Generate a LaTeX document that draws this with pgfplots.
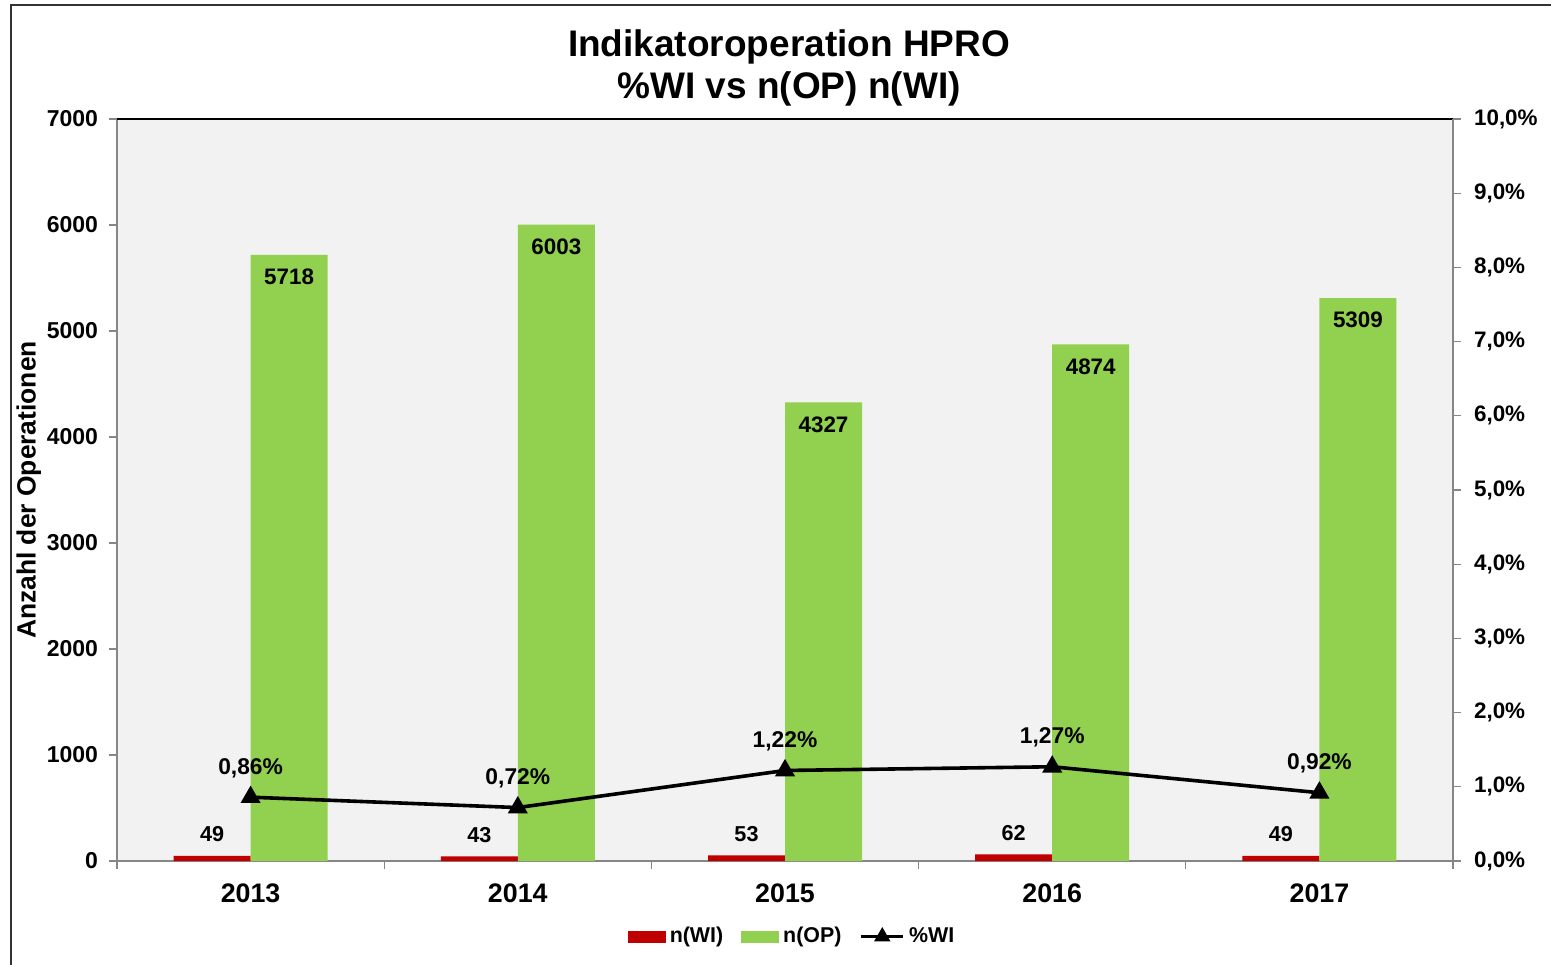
\documentclass[border=0pt]{standalone}
\usepackage{fontspec}
\setmainfont{Liberation Sans}
\usepackage{pgfplots}
\pgfplotsset{compat=1.18}
\definecolor{wired}{HTML}{C00000}
\definecolor{opgreen}{HTML}{92D050}
\definecolor{bggray}{HTML}{F2F2F2}
\definecolor{axgray}{HTML}{868686}
\pgfplotsset{
  /pgf/number format/assume math mode=true,
  /pgf/number format/1000 sep={},
  barlegend/.style={legend image code/.code={\fill[##1] (0pt,-3pt) rectangle (19pt,3pt);}},
  linelegend/.style={legend image code/.code={\draw[mark repeat=2,mark phase=2,##1] plot coordinates {(0pt,0pt) (10.5pt,0pt) (21pt,0pt)};}},
}
\begin{document}
\begin{tikzpicture}
\path[use as bounding box] (0,0) rectangle (775.5pt,482pt);
\draw[line width=0.8pt, black!80] (5.5pt,-2pt) -- (5.5pt,479.5pt) -- (777pt,479.5pt);
\begin{axis}[
  at={(58.5pt,51.5pt)}, anchor=south west,
  scale only axis, width=668pt, height=371pt,
  xmin=-0.5, xmax=4.5, ymin=0, ymax=7000,
  axis background/.style={fill=bggray},
  axis line style={axgray, line width=0.6pt},
  axis x line*=bottom, axis y line*=left,
  tick align=outside,
  major tick length=4pt, minor tick length=4pt,
  ytick={0,1000,...,7000},
  ytick style={axgray, line width=0.6pt},
  yticklabel style={font=\bfseries\fontsize{11.5}{13}\selectfont, xshift=-2pt},
  xtick={0,...,4},
  xticklabels={2013,2014,2015,2016,2017},
  major x tick style={draw=none},
  minor xtick={-0.5,0.5,...,4.5},
  minor x tick style={axgray, line width=0.6pt},
  xticklabel style={font=\bfseries\fontsize{13.4}{15}\selectfont, yshift=-4pt},
  ylabel={Anzahl der Operationen},
  ylabel style={at={(axis description cs:-0.066,0.5)}, anchor=center, rotate=0, font=\bfseries\fontsize{13.2}{15}\selectfont},
  title={Indikatoroperation HPRO\\\%WI vs n(OP) n(WI)},
  title style={align=center, font=\bfseries\fontsize{18.5}{21}\selectfont, at={(axis description cs:0.503,1)}, anchor=south, yshift=-3pt},
  legend columns=3,
  legend style={draw=none, fill=none, at={(axis description cs:0.506,-0.102)}, anchor=center,
    font=\bfseries\fontsize{10.7}{12}\selectfont,
    /tikz/every even column/.append style={column sep=7pt}},
]
\addplot[ybar, bar width=38.5pt, bar shift=-19.25pt, fill=wired, draw=none,
  barlegend,
  nodes near coords,
  nodes near coords style={black, font=\bfseries\fontsize{10.8}{12}\selectfont, anchor=south, yshift=3.5pt, xshift=-19.25pt}]
  coordinates {(0,49) (1,43) (2,53) (3,62) (4,49)};
\addlegendentry{n(WI)}
\addplot[ybar, bar width=38.5pt, bar shift=19.25pt, fill=opgreen, draw=none,
  barlegend,
  nodes near coords,
  nodes near coords style={black, font=\bfseries\fontsize{11.2}{13}\selectfont, anchor=center, yshift=-11pt, xshift=19.25pt}]
  coordinates {(0,5718) (1,6003) (2,4327) (3,4874) (4,5309)};
\addlegendentry{n(OP)}
\addlegendimage{black, line width=1.8pt, mark=triangle*, mark size=3pt, mark options={solid}, linelegend}
\addlegendentry{\%WI}
\draw[black, line width=0.8pt] (rel axis cs:0,1) -- (rel axis cs:1,1);
\end{axis}
\begin{axis}[
  at={(58.5pt,51.5pt)}, anchor=south west,
  scale only axis, width=668pt, height=371pt,
  xmin=-0.5, xmax=4.5, ymin=0, ymax=10,
  axis x line=none, axis y line*=right,
  axis line style={axgray, line width=0.6pt},
  tick align=outside, major tick length=4pt,
  ytick={0,1,...,10},
  yticklabels={{0,0\%},{1,0\%},{2,0\%},{3,0\%},{4,0\%},{5,0\%},{6,0\%},{7,0\%},{8,0\%},{9,0\%},{10,0\%}},
  ytick style={axgray, line width=0.6pt},
  yticklabel style={font=\bfseries\fontsize{11.2}{13}\selectfont, xshift=3pt},
]
\addplot[black, line width=1.8pt, mark=triangle*, mark size=4pt, mark options={solid, fill=black},
  point meta=explicit symbolic,
  nodes near coords,
  nodes near coords style={black, font=\bfseries\fontsize{11.4}{13}\selectfont, anchor=center, yshift=14.5pt}]
  coordinates {(0,0.86) [0,86\%] (1,0.72) [0,72\%] (2,1.22) [1,22\%] (3,1.27) [1,27\%] (4,0.92) [0,92\%]};
\end{axis}
\end{tikzpicture}
\end{document}
